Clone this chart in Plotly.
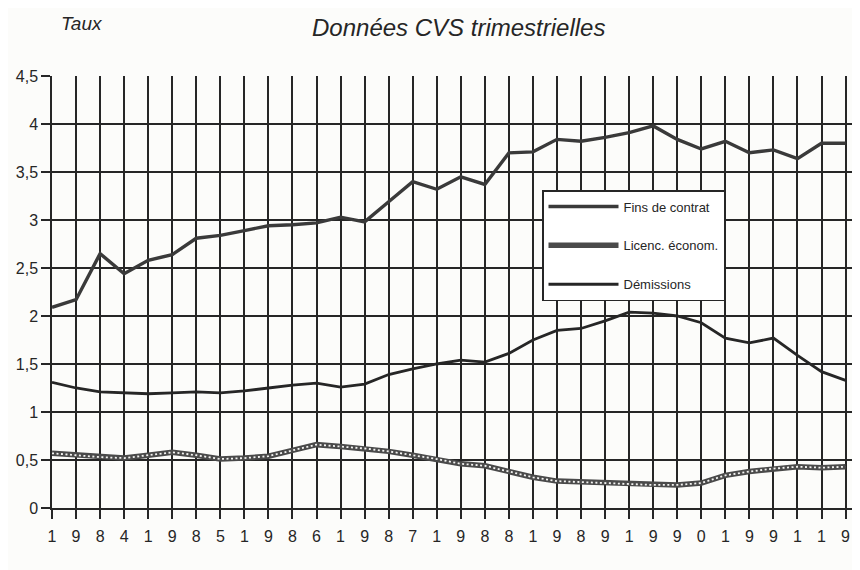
import plotly.graph_objects as go

# Quarterly categories 1984 T1 ... 1992 T2
quarters = [f"{y} T{q}" for y in range(1984, 1993) for q in range(1, 5)][:34]

# Tick labels: the year digits spread over the quarters
tick_labels = ["1", "9", "8", "4", "1", "9", "8", "5", "1", "9", "8", "6",
               "1", "9", "8", "7", "1", "9", "8", "8", "1", "9", "8", "9",
               "1", "9", "9", "0", "1", "9", "9", "1", "1", "9"]

fins_de_contrat = [2.09, 2.17, 2.65, 2.44, 2.58, 2.64, 2.81, 2.84, 2.89, 2.94,
                   2.95, 2.97, 3.03, 2.98, 3.19, 3.40, 3.32, 3.45, 3.37, 3.70,
                   3.71, 3.84, 3.82, 3.86, 3.91, 3.98, 3.84, 3.74, 3.82, 3.70,
                   3.73, 3.64, 3.80, 3.80]

licenc_econom = [0.57, 0.55, 0.53, 0.52, 0.55, 0.58, 0.55, 0.51, 0.52, 0.54,
                 0.60, 0.66, 0.64, 0.62, 0.59, 0.55, 0.51, 0.46, 0.44, 0.38,
                 0.32, 0.28, 0.27, 0.26, 0.25, 0.24, 0.24, 0.26, 0.34, 0.38,
                 0.41, 0.43, 0.42, 0.43]

demissions = [1.31, 1.25, 1.21, 1.20, 1.19, 1.20, 1.21, 1.20, 1.22, 1.25,
              1.28, 1.30, 1.26, 1.29, 1.39, 1.45, 1.50, 1.54, 1.52, 1.61,
              1.75, 1.85, 1.87, 1.95, 2.04, 2.03, 2.00, 1.93, 1.77, 1.72,
              1.77, 1.59, 1.42, 1.33]

y_ticks = [0, 0.5, 1, 1.5, 2, 2.5, 3, 3.5, 4, 4.5]

FONT = "Liberation Sans, Arial, sans-serif"
INK = "#262626"

# The page body has an 8px default margin: size the figure so it fills the window.
OFF = 8
W, H = 860 - OFF, 570 - OFF
ML, MR, MT, MB = 52 - OFF, 0, 76 - OFF, 62
PW, PH = W - ML - MR, H - MT - MB


def px(xp):  # page x -> paper x
    return (xp - OFF - ML) / PW


def py(yp):  # page y -> paper y
    return (H - MB - (yp - OFF)) / PH


fig = go.Figure()

fig.add_trace(go.Scatter(
    x=quarters, y=fins_de_contrat, name="Fins de contrat", mode="lines",
    line=dict(color="#3a3a3a", width=3.4), legendgroup="a"))

fig.add_trace(go.Scatter(
    x=quarters, y=licenc_econom, name="Licenc. économ.", mode="lines",
    line=dict(color="#4a4a4a", width=5.5), legendgroup="b"))
fig.add_trace(go.Scatter(
    x=quarters, y=licenc_econom, name="Licenc. économ.", mode="lines",
    line=dict(color="#f4f4f2", width=1.8, dash="2px,2.5px"),
    legendgroup="b", showlegend=False, hoverinfo="skip"))

fig.add_trace(go.Scatter(
    x=quarters, y=demissions, name="Démissions", mode="lines",
    line=dict(color="#262626", width=2.8), legendgroup="c"))

fig.update_layout(
    width=W, height=H,
    margin=dict(l=ML, r=MR, t=MT, b=MB, autoexpand=False),
    paper_bgcolor="#fcfcfa", plot_bgcolor="#fcfcfa",
    separators=", ",
    font=dict(family=FONT, color=INK, size=15),
    showlegend=True,
    legend=dict(
        x=px(542), y=py(190), xanchor="left", yanchor="top",
        bgcolor="#ffffff", bordercolor=INK, borderwidth=1.5,
        font=dict(family=FONT, size=13, color=INK),
        tracegroupgap=19, itemwidth=70,
    ),
    annotations=[
        dict(text="<i>Taux</i>", xref="paper", yref="paper",
             x=px(82), y=py(24), xanchor="center", yanchor="middle",
             showarrow=False, font=dict(size=19, family=FONT, color=INK)),
        dict(text="<i>Données CVS trimestrielles</i>", xref="paper", yref="paper",
             x=px(458), y=py(28), xanchor="center", yanchor="middle",
             showarrow=False, font=dict(size=24, family=FONT, color=INK)),
    ],
)

fig.update_xaxes(
    type="category", range=[0, 33.6], automargin=False,
    tickmode="array", tickvals=quarters, ticktext=tick_labels,
    showgrid=True, gridcolor=INK, gridwidth=1.5,
    showline=True, linecolor=INK, linewidth=1.5,
    ticks="outside", ticklen=9, tickwidth=1.5, tickcolor=INK,
    ticklabelstandoff=4,
    tickfont=dict(size=16, family=FONT, color=INK),
    zeroline=False, fixedrange=True,
)

fig.update_yaxes(
    range=[0, 4.5], tickmode="array", tickvals=y_ticks, automargin=False,
    showgrid=True, gridcolor=INK, gridwidth=1.5,
    showline=True, linecolor=INK, linewidth=1.5,
    ticks="outside", ticklen=9, tickwidth=1.5, tickcolor=INK,
    tickfont=dict(size=16, family=FONT, color=INK),
    zeroline=False, fixedrange=True,
)

fig.write_html("out.html")
